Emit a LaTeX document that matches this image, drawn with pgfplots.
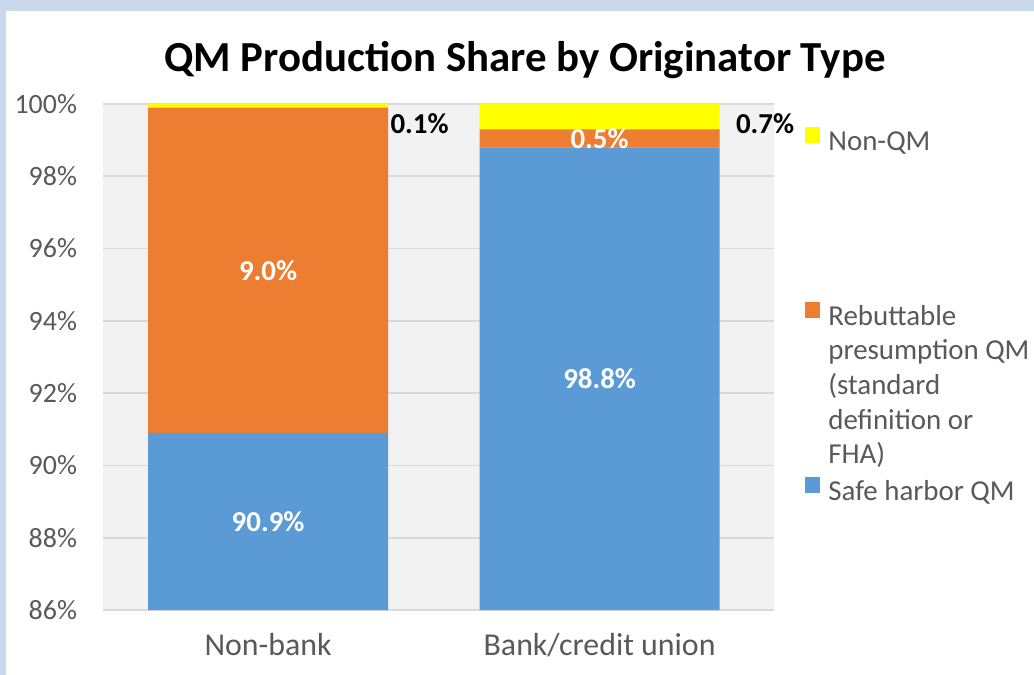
\documentclass[border=0pt]{standalone}
\usepackage{fontspec}
\setmainfont{Carlito}
\usepackage{pgfplots}
\pgfplotsset{compat=1.18}
\definecolor{safeblue}{HTML}{5B9BD5}
\definecolor{rebutorange}{HTML}{ED7D31}
\definecolor{nonqmyellow}{HTML}{FFFF00}
\definecolor{plotbg}{HTML}{F2F2F2}
\definecolor{gridgrey}{HTML}{D9D9D9}
\definecolor{labelgrey}{HTML}{595959}
\definecolor{frameblue}{HTML}{C9D8EC}

\begin{document}
\begin{tikzpicture}
% slide frame
\fill[frameblue] (-51.5bp,-32.5bp) rectangle (465.5bp,305bp);
\fill[white] (-48.5bp,-32.5bp) rectangle (465.5bp,299.5bp);
\node[anchor=base, font=\fontsize{21.5}{24}\selectfont\bfseries] at (211bp,269bp)
  {QM Production Share by Originator Type};
\begin{axis}[
  at={(0,0)}, anchor=south west,
  width=335.5bp, height=253bp, scale only axis,
  ybar stacked, bar width=120bp,
  xmin=-0.498, xmax=1.526, ymin=86, ymax=100,
  xtick={0,1}, xticklabels={Non-bank, Bank/credit union},
  ytick={86,88,...,100},
  yticklabel={\pgfmathprintnumber{\tick}\%},
  /pgf/number format/assume math mode=true,
  axis line style={draw=none},
  major tick length=0pt,
  ymajorgrids, grid style={gridgrey, line width=0.8bp},
  axis background/.style={fill=plotbg},
  ticklabel style={font=\fontsize{14}{16}\selectfont, text=labelgrey},
  xticklabel style={font=\fontsize{16}{18}\selectfont, yshift=-8bp},
  yticklabel style={xshift=-9.5bp},
  legend cell align=left,
  legend style={at={(rel axis cs:1,1)}, anchor=north west, xshift=15.5bp, yshift=-11.5bp,
    draw=none, fill=none, inner sep=0pt, row sep=3.3bp, column sep=4bp,
    font=\fontsize{14.5}{17}\selectfont, text=labelgrey,
    nodes={inner sep=0pt, text height=10.5bp, text depth=3.5bp}},
  legend image code/.code={\fill[#1] (0bp,0.3bp) rectangle (7.5bp,8bp);},
]
\addplot[fill=safeblue, draw=none, forget plot] coordinates {(0,90.9) (1,98.8)};
\addplot[fill=rebutorange, draw=none, forget plot] coordinates {(0,9.0) (1,0.5)};
\addplot[fill=nonqmyellow, draw=none, forget plot] coordinates {(0,0.1) (1,0.7)};

% legend laid out line by line, as in the reference
\addlegendimage{fill=nonqmyellow, draw=none}
\addlegendentry{Non-QM}
\addlegendimage{empty legend}\addlegendentry{\mbox{}}
\addlegendimage{empty legend}\addlegendentry{\mbox{}}
\addlegendimage{empty legend}\addlegendentry{\mbox{}}
\addlegendimage{empty legend}\addlegendentry{\mbox{}}
\addlegendimage{fill=rebutorange, draw=none}
\addlegendentry{Rebuttable}
\addlegendimage{empty legend}\addlegendentry{presumption QM}
\addlegendimage{empty legend}\addlegendentry{(standard}
\addlegendimage{empty legend}\addlegendentry{definition or}
\addlegendimage{empty legend}\addlegendentry{FHA)}
\addlegendimage{fill=safeblue, draw=none}
\addlegendentry{Safe harbor QM}

\coordinate (l01) at (axis cs:0.362,99.45);
\coordinate (l07) at (axis cs:1.362,99.45);
\coordinate (l909) at (axis cs:0,88.45);
\coordinate (l90) at (axis cs:0,95.4);
\coordinate (l988) at (axis cs:1,92.4);
\coordinate (l05) at (axis cs:1,99.05);
\end{axis}
\begin{scope}[every node/.style={font=\fontsize{14.5}{16}\selectfont\bfseries}]
\node[text=white] at (l909) {90.9\%};
\node[text=white] at (l90) {9.0\%};
\node[text=white] at (l988) {98.8\%};
\node[text=white] at (l05) {0.5\%};
\node[anchor=west, inner sep=0pt, xshift=1bp] at (l01) {0.1\%};
\node[anchor=west, inner sep=0pt, xshift=8bp] at (l07) {0.7\%};
\end{scope}
\end{tikzpicture}
\end{document}
